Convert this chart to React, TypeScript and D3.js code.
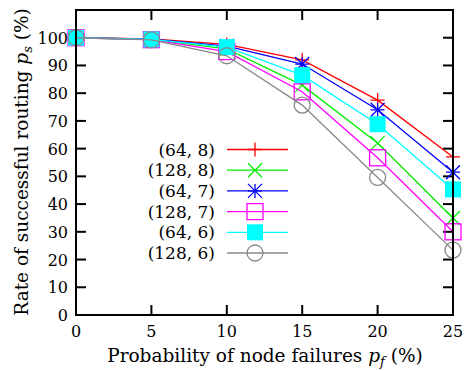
import React from "react";
import * as d3 from "d3";

const xValues = [0, 5, 10, 15, 20, 25];
const seriesNames = ["(64, 8)", "(128, 8)", "(64, 7)", "(128, 7)", "(64, 6)", "(128, 6)"];
const s64_8 = [100, 99.6, 97.6, 92.0, 77.5, 57.0];
const s128_8 = [100, 99.4, 96.0, 82.9, 62.0, 35.0];
const s64_7 = [100, 99.5, 97.0, 90.5, 74.0, 51.5];
const s128_7 = [100, 99.3, 95.0, 80.5, 56.7, 30.0];
const s64_6 = [100, 99.4, 96.6, 86.5, 68.8, 45.3];
const s128_6 = [100, 99.2, 93.5, 75.7, 49.6, 23.4];
const seriesData = [s64_8, s128_8, s64_7, s128_7, s64_6, s128_6];
const colors = ["#ff0000", "#00ee00", "#0000ff", "#ff00ff", "#00ffff", "#888888"];
const markers = ["plus", "cross", "star", "square", "fsquare", "circle"];
const yTicks = [0, 10, 20, 30, 40, 50, 60, 70, 80, 90, 100];

const W = 466, H = 371;
const left = 76, right = 453, top = 10, bottom = 315;
const FONT = "'DejaVu Serif', serif";
const FS = 16;
const FL = 18.5;

function Marker({ type, x, y, color }: { type: string; x: number; y: number; color: string }) {
  const s = 7;
  const sw = 1.3;
  if (type === "plus")
    return <path d={`M${x - s},${y}H${x + s}M${x},${y - s}V${y + s}`} stroke={color} strokeWidth={sw} fill="none" />;
  if (type === "cross")
    return <path d={`M${x - s},${y - s}L${x + s},${y + s}M${x - s},${y + s}L${x + s},${y - s}`} stroke={color} strokeWidth={sw} fill="none" />;
  if (type === "star")
    return (
      <path
        d={`M${x - s},${y}H${x + s}M${x},${y - s}V${y + s}M${x - s},${y - s}L${x + s},${y + s}M${x - s},${y + s}L${x + s},${y - s}`}
        stroke={color}
        strokeWidth={sw}
        fill="none"
      />
    );
  if (type === "square")
    return <rect x={x - 8} y={y - 8} width={16} height={16} stroke={color} strokeWidth={sw} fill="none" />;
  if (type === "fsquare") return <rect x={x - 8} y={y - 8} width={16} height={16} fill={color} />;
  return <circle cx={x} cy={y} r={8} stroke={color} strokeWidth={sw} fill="none" />;
}

export default function App() {
  const xs = d3.scaleLinear().domain([0, 25]).range([left, right]);
  const ys = d3.scaleLinear().domain([0, 110]).range([bottom, top]);
  const line = d3
    .line<[number, number]>()
    .x((d) => xs(d[0]))
    .y((d) => ys(d[1]));

  const legX0 = 227, legX1 = 288, legMid = 255, legTextX = 215, legY0 = 149.5, legDy = 20.7;

  return (
    <svg width={W} height={H} style={{ position: "absolute", left: 0, top: 0, fontFamily: FONT }}>
      <rect x={0} y={0} width={W} height={H} fill="#fff" />
      {xValues.map((v) => (
        <g key={"xt" + v}>
          <line x1={xs(v)} x2={xs(v)} y1={bottom} y2={bottom - 10} stroke="#000" strokeWidth={2} />
          <line x1={xs(v)} x2={xs(v)} y1={top} y2={top + 10} stroke="#000" strokeWidth={2} />
          <text x={xs(v)} y={bottom + 22} textAnchor="middle" fontSize={FS}>
            {v}
          </text>
        </g>
      ))}
      {yTicks.map((v) => (
        <g key={"yt" + v}>
          <line x1={left} x2={left + 10} y1={ys(v)} y2={ys(v)} stroke="#000" strokeWidth={2} />
          <line x1={right} x2={right - 10} y1={ys(v)} y2={ys(v)} stroke="#000" strokeWidth={2} />
          <text x={left - 8} y={ys(v) + 6} textAnchor="end" fontSize={FS}>
            {v}
          </text>
        </g>
      ))}
      {seriesData.map((vals, i) => {
        const pts = xValues.map((x, j) => [x, vals[j]] as [number, number]);
        return (
          <g key={"s" + i}>
            <path d={line(pts) || ""} stroke={colors[i]} strokeWidth={1.3} fill="none" />
            {pts.map((p, j) => (
              <Marker key={j} type={markers[i]} x={xs(p[0])} y={ys(p[1])} color={colors[i]} />
            ))}
          </g>
        );
      })}
      {seriesNames.map((n, i) => {
        const y = legY0 + i * legDy;
        return (
          <g key={"l" + i}>
            <text x={legTextX} y={y + 6} textAnchor="end" fontSize={17}>
              {n}
            </text>
            <line x1={legX0} x2={legX1} y1={y} y2={y} stroke={colors[i]} strokeWidth={1.3} />
            <Marker type={markers[i]} x={legMid} y={y} color={colors[i]} />
          </g>
        );
      })}
      <rect x={left} y={top} width={right - left} height={bottom - top} fill="none" stroke="#000" strokeWidth={2} />
      <text x={265} y={362} textAnchor="middle" fontSize={FL}>
        Probability of node failures <tspan fontStyle="italic">p</tspan>
        <tspan fontStyle="italic" fontSize={13} dy={4}>f</tspan>
        <tspan dy={-4}> (%)</tspan>
      </text>
      <text transform={`translate(28,162) rotate(-90)`} textAnchor="middle" fontSize={FL}>
        Rate of successful routing <tspan fontStyle="italic">p</tspan>
        <tspan fontStyle="italic" fontSize={13} dy={4}>s</tspan>
        <tspan dy={-4}> (%)</tspan>
      </text>
    </svg>
  );
}
